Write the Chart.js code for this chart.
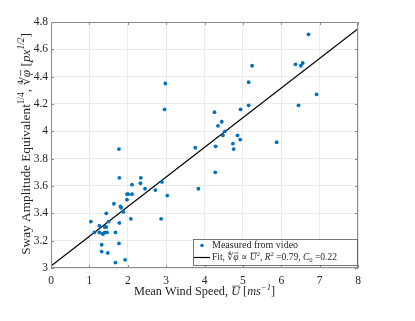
<!DOCTYPE html>
<html>
<head>
<meta charset="utf-8">
<script src="https://cdn.jsdelivr.net/npm/chart.js@4/dist/chart.umd.min.js"></script>
<style>
  html, body { margin: 0; padding: 0; background: #ffffff; }
  #wrap { width: 415px; height: 321px; }
</style>
</head>
<body>
<div id="wrap"><canvas id="c" width="415" height="321"></canvas></div>
<script>
// Mean wind speed (m/s) of each measurement
const windSpeed = [
  1.78, 2.34, 2.33, 2.11, 2.45, 1.98, 2.01, 2.11, 2.72, 2.89,
  3.03, 1.98, 1.64, 1.81, 1.83, 1.89, 1.44, 2.08, 2.87, 1.04,
  1.50, 1.78, 1.26, 1.40, 1.44, 1.13, 1.26, 1.36, 1.40, 1.46,
  1.68, 1.34, 1.77, 1.32, 1.32, 1.48, 1.93, 1.68, 1.77, 2.98,
  2.96, 4.26, 5.24, 5.15, 5.15, 4.94, 4.45, 4.35, 4.53, 4.48,
  4.86, 4.74, 4.93, 4.76, 4.29, 3.76, 5.88, 4.28, 3.84, 6.71,
  6.37, 6.56, 6.51, 6.92, 6.45
];
// Sway amplitude equivalent (px^1/2) of each measurement
const swayAmp = [
  3.66, 3.66, 3.62, 3.61, 3.58, 3.54, 3.54, 3.54, 3.57, 3.63,
  3.53, 3.50, 3.47, 3.45, 3.44, 3.41, 3.40, 3.36, 3.36, 3.34,
  3.34, 3.33, 3.31, 3.30, 3.30, 3.26, 3.26, 3.25, 3.26, 3.26,
  3.26, 3.25, 3.18, 3.17, 3.12, 3.11, 3.06, 3.04, 3.87, 4.35,
  4.16, 4.14, 4.48, 4.36, 4.19, 4.16, 4.07, 4.04, 4.00, 3.97,
  3.97, 3.91, 3.94, 3.87, 3.89, 3.88, 3.92, 3.70, 3.58, 4.71,
  4.49, 4.50, 4.48, 4.27, 4.19
];
// Fitted line end points
const fitX = [0, 8];
const fitY = [3.015, 4.75];
// Axis ticks
const xTicks = [0, 1, 2, 3, 4, 5, 6, 7, 8];
const yTicks = [3, 3.2, 3.4, 3.6, 3.8, 4, 4.2, 4.4, 4.6, 4.8];

const legendLabels = ["Measured from video", "Fit"];

const SERIF = "'Liberation Serif', 'DejaVu Serif', 'Times New Roman', serif";
const TXT = '#262626';
const AXC = '#8a8a8a';

const scatterPts = windSpeed.map((x, i) => ({ x: x, y: swayAmp[i] }));
const fitPts = fitX.map((x, i) => ({ x: x, y: fitY[i] }));

// draw rich text: segs = [{t, sup, sub, it}]
function richWidth(ctx, segs, size) {
  let w = 0;
  for (const s of segs) {
    const fs = (s.sup || s.sub) ? size * 0.7 : size;
    ctx.font = (s.it ? 'italic ' : '') + fs + 'px ' + SERIF;
    w += ctx.measureText(s.t).width;
  }
  return w;
}
function drawRich(ctx, segs, x, y, size, align) {
  const w = richWidth(ctx, segs, size);
  let cx = align === 'center' ? x - w / 2 : x;
  ctx.textBaseline = 'middle';
  ctx.textAlign = 'left';
  for (const s of segs) {
    const fs = (s.sup || s.sub) ? size * 0.7 : size;
    ctx.font = (s.it ? 'italic ' : '') + fs + 'px ' + SERIF;
    let dy = 0;
    if (s.sup) dy = -size * 0.38;
    if (s.sub) dy = size * 0.25;
    ctx.fillText(s.t, cx, y + dy);
    if (s.bar) {
      const tw = ctx.measureText(s.t).width;
      ctx.save();
      ctx.strokeStyle = ctx.fillStyle;
      ctx.lineWidth = 0.7;
      ctx.beginPath();
      ctx.moveTo(cx + 1, y + dy - size * 0.48);
      ctx.lineTo(cx + tw, y + dy - size * 0.48);
      ctx.stroke();
      ctx.restore();
    }
    cx += ctx.measureText(s.t).width;
  }
}

const framePlugin = {
  id: 'frame',
  afterDraw(chart) {
    const ctx = chart.ctx;
    const a = chart.chartArea;
    const xs = chart.scales.x, ys = chart.scales.y;
    ctx.save();
    // box
    ctx.strokeStyle = AXC;
    ctx.lineWidth = 1;
    ctx.strokeRect(a.left + 0.5, a.top + 0.5, a.right - a.left - 1, a.bottom - a.top - 1);
    // inward ticks
    ctx.beginPath();
    for (const v of xTicks) {
      const px = Math.round(xs.getPixelForValue(v)) + 0.5;
      ctx.moveTo(px, a.bottom); ctx.lineTo(px, a.bottom - 3);
      ctx.moveTo(px, a.top); ctx.lineTo(px, a.top + 3);
    }
    for (const v of yTicks) {
      const py = Math.round(ys.getPixelForValue(v)) + 0.5;
      ctx.moveTo(a.left, py); ctx.lineTo(a.left + 3, py);
      ctx.moveTo(a.right, py); ctx.lineTo(a.right - 3, py);
    }
    ctx.stroke();

    // axis titles
    ctx.fillStyle = TXT;
    drawRich(ctx, [
      { t: 'Mean Wind Speed, ' },
      { t: 'U', it: true, bar: true },
      { t: ' [' },
      { t: 'ms', it: true },
      { t: '\u22121', sup: true, it: true },
      { t: ']' }
    ], (a.left + a.right) / 2, 292, 12.3, 'center');

    ctx.save();
    ctx.translate(27, 144);
    ctx.rotate(-Math.PI / 2);
    drawRich(ctx, [
      { t: 'Sway Amplitude Equivalent' },
      { t: '1/4', sup: true },
      { t: ', \u221C' },
      { t: '\u03C6', it: true, bar: true },
      { t: ' [' },
      { t: 'px', it: true },
      { t: '1/2', sup: true, it: true },
      { t: ']' }
    ], 0, 0, 13.3, 'center');
    ctx.restore();

    // legend
    const lx = 193, ly = 239, lw = 164, lh = 26;
    ctx.fillStyle = '#ffffff';
    ctx.fillRect(lx, ly, lw, lh);
    ctx.strokeStyle = '#555555';
    ctx.lineWidth = 0.8;
    ctx.strokeRect(lx + 0.5, ly + 0.5, lw, lh);
    // row 1
    ctx.fillStyle = '#0072BD';
    ctx.beginPath();
    ctx.arc(202, 245.5, 1.8, 0, Math.PI * 2);
    ctx.fill();
    ctx.fillStyle = TXT;
    drawRich(ctx, [{ t: 'Measured from video' }], 212, 245.5, 10, 'left');
    // row 2
    ctx.strokeStyle = '#000000';
    ctx.lineWidth = 1.2;
    ctx.beginPath();
    ctx.moveTo(194, 257.5); ctx.lineTo(210, 257.5);
    ctx.stroke();
    drawRich(ctx, [
      { t: 'Fit, \u221C' },
      { t: '\u03C6', it: true, bar: true },
      { t: ' \u221D ' },
      { t: 'U', it: true, bar: true },
      { t: '2', sup: true },
      { t: ', ' },
      { t: 'R', it: true },
      { t: '2', sup: true },
      { t: ' =0.79, ' },
      { t: 'C', it: true },
      { t: '0', sub: true },
      { t: ' =0.22' }
    ], 212, 257.5, 9.5, 'left');
    ctx.restore();
  }
};

const bgPlugin = {
  id: 'bg',
  beforeDraw(chart) {
    const ctx = chart.ctx;
    ctx.save();
    ctx.fillStyle = '#ffffff';
    ctx.fillRect(0, 0, chart.width, chart.height);
    ctx.restore();
  }
};

new Chart(document.getElementById('c'), {
  type: 'scatter',
  data: {
    datasets: [
      {
        label: legendLabels[0],
        data: scatterPts,
        backgroundColor: '#0072BD',
        borderColor: '#0072BD',
        pointRadius: 1.9,
        pointBorderWidth: 0,
        showLine: false,
        order: 1
      },
      {
        label: legendLabels[1],
        data: fitPts,
        borderColor: '#000000',
        backgroundColor: '#000000',
        borderWidth: 1.2,
        pointRadius: 0,
        showLine: true,
        order: 2
      }
    ]
  },
  options: {
    responsive: false,
    animation: false,
    layout: { padding: { left: 0, right: 57, top: 22, bottom: 0 } },
    plugins: { legend: { display: false }, tooltip: { enabled: false } },
    scales: {
      x: {
        type: 'linear',
        min: 0, max: 8,
        afterFit(s) { s.height = 53; },
        afterBuildTicks(s) { s.ticks = xTicks.map(v => ({ value: v })); },
        ticks: {
          color: TXT,
          font: { family: SERIF, size: 11.5 },
          padding: 6,
          maxRotation: 0,
          callback: v => String(v)
        },
        grid: { color: '#ebebeb', drawTicks: false, lineWidth: 1 },
        border: { display: false }
      },
      y: {
        type: 'linear',
        min: 3, max: 4.8,
        afterFit(s) { s.width = 51; },
        afterBuildTicks(s) { s.ticks = yTicks.map(v => ({ value: v })); },
        ticks: {
          color: TXT,
          font: { family: SERIF, size: 11.5 },
          padding: 3,
          callback: v => String(+v.toFixed(1))
        },
        grid: { color: '#ebebeb', drawTicks: false, lineWidth: 1 },
        border: { display: false }
      }
    }
  },
  plugins: [bgPlugin, framePlugin]
});
</script>
</body>
</html>
